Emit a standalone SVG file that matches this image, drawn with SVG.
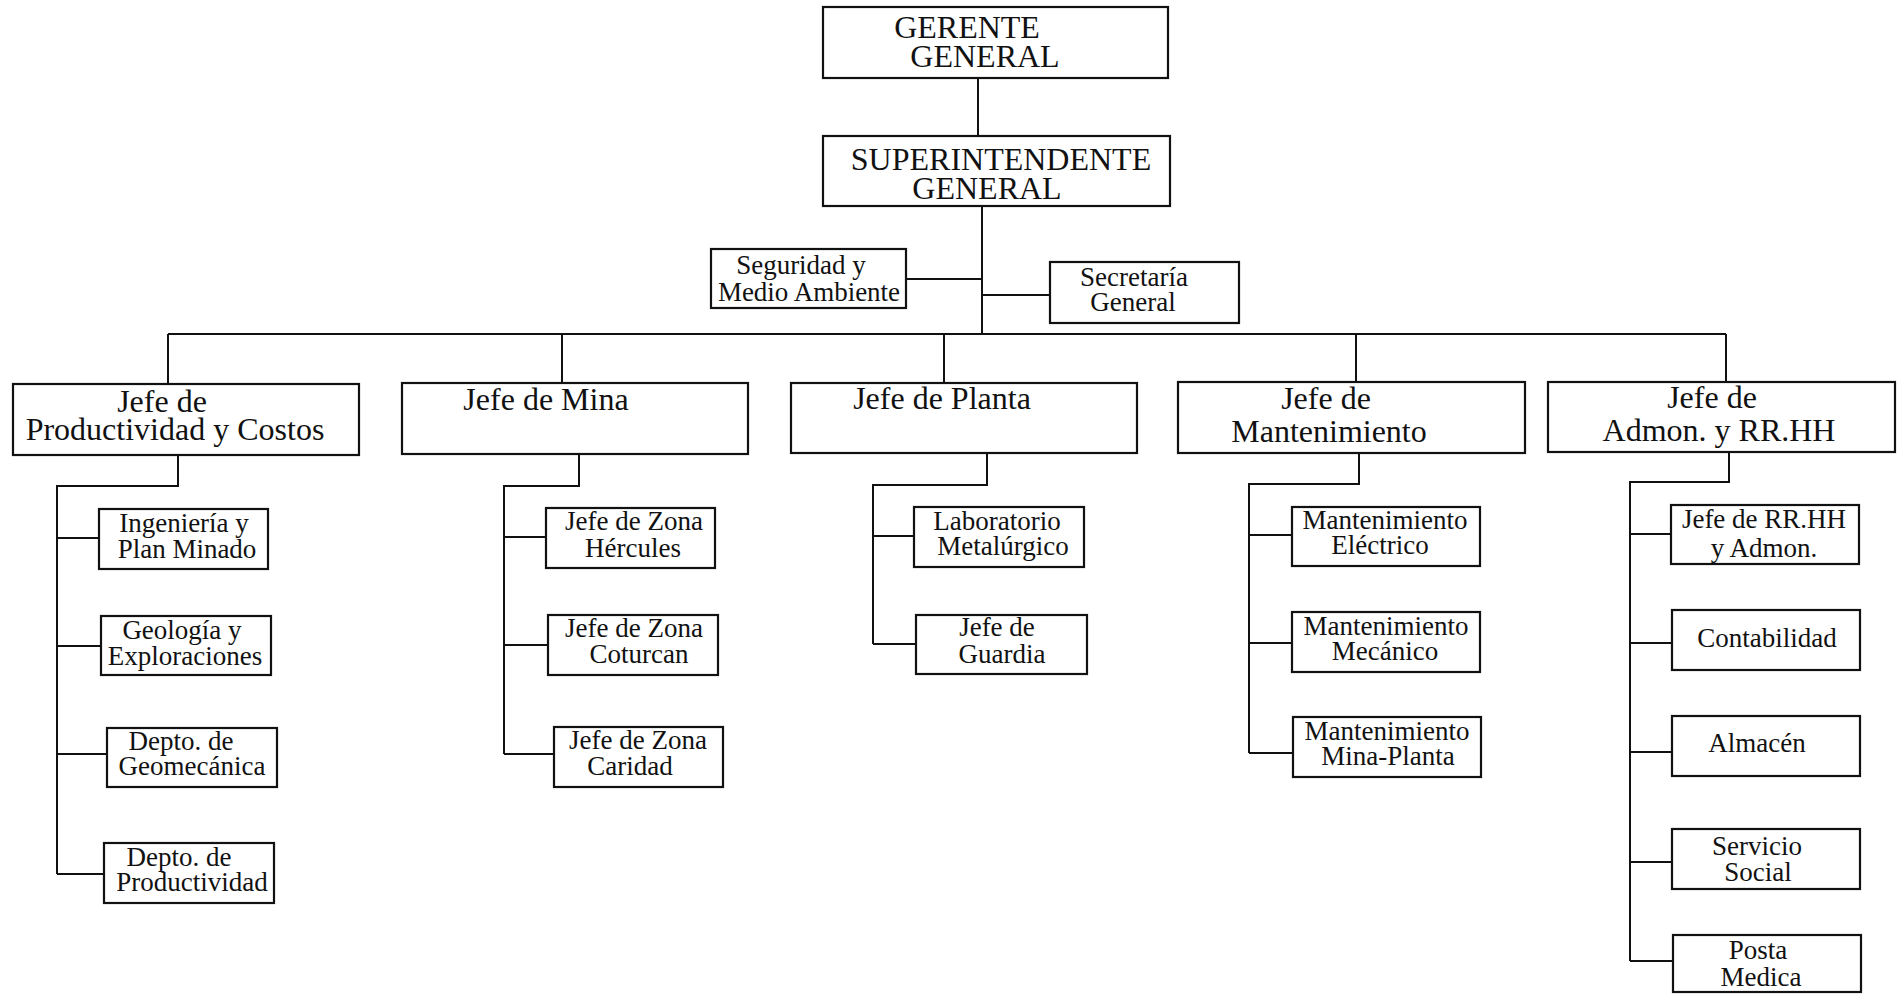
<svg xmlns="http://www.w3.org/2000/svg" width="1901" height="994" viewBox="0 0 1901 994">
<style>
rect{fill:#fff;stroke:#111;stroke-width:2.2}
#connectors path{fill:none;stroke:#111;stroke-width:2}
text{font-family:"Liberation Serif","Times New Roman",serif;fill:#111;text-anchor:middle}
.l{font-size:32px}
.s{font-size:27px}
</style>
<rect x="0" y="0" width="1901" height="994" style="fill:#fff;stroke:none"/>
<g id="connectors">
<path d="M978 78V136"/>
<path d="M982 206V334"/>
<path d="M906 279H982"/>
<path d="M982 295H1050"/>
<path d="M168 334H1726"/>
<path d="M168 334V383M562 334V383M944 334V383M1356 334V382M1726 334V382"/>
<path d="M178 455V486H57V874M57 538H99M57 646H101M57 754H107M57 874H104"/>
<path d="M579 454V486H504V754M504 537H546M504 645H548M504 754H554"/>
<path d="M987 453V485H873V644M873 536H914M873 644H916"/>
<path d="M1359 453V484H1249V753M1249 535H1292M1249 643H1292M1249 753H1293"/>
<path d="M1729 452V482H1630V961M1630 534H1671M1630 643H1672M1630 752H1672M1630 862H1672M1630 961H1673"/>
</g>
<g id="gerente"><rect x="823" y="7" width="345" height="71"/><text class="l" x="967" y="38">GERENTE</text><text class="l" x="985" y="67">GENERAL</text></g>
<g id="superintendente"><rect x="823" y="136" width="347" height="70"/><text class="l" x="1001" y="170">SUPERINTENDENTE</text><text class="l" x="987" y="199">GENERAL</text></g>
<g id="seguridad"><rect x="711" y="249" width="195" height="59"/><text class="s" x="801" y="274">Seguridad y</text><text class="s" x="809" y="301">Medio Ambiente</text></g>
<g id="secretaria"><rect x="1050" y="262" width="189" height="61"/><text class="s" x="1134" y="286">Secretaría</text><text class="s" x="1133" y="311">General</text></g>
<g id="jefe-productividad"><rect x="13" y="384" width="346" height="71"/><text class="l" x="162" y="412">Jefe de</text><text class="l" x="175" y="440">Productividad y Costos</text></g>
<g id="jefe-mina"><rect x="402" y="383" width="346" height="71"/><text class="l" x="546" y="410">Jefe de Mina</text></g>
<g id="jefe-planta"><rect x="791" y="383" width="346" height="70"/><text class="l" x="942" y="409">Jefe de Planta</text></g>
<g id="jefe-mantenimiento"><rect x="1178" y="382" width="347" height="71"/><text class="l" x="1326" y="409">Jefe de</text><text class="l" x="1329" y="442">Mantenimiento</text></g>
<g id="jefe-admon"><rect x="1548" y="382" width="347" height="70"/><text class="l" x="1712" y="408">Jefe de</text><text class="l" x="1719" y="441">Admon. y RR.HH</text></g>
<g id="ingenieria"><rect x="99" y="509" width="169" height="60"/><text class="s" x="184" y="532">Ingeniería y</text><text class="s" x="187" y="558">Plan Minado</text></g>
<g id="geologia"><rect x="101" y="616" width="170" height="59"/><text class="s" x="182" y="639">Geología y</text><text class="s" x="185" y="665">Exploraciones</text></g>
<g id="geomecanica"><rect x="107" y="728" width="170" height="59"/><text class="s" x="181" y="750">Depto. de</text><text class="s" x="192" y="775">Geomecánica</text></g>
<g id="depto-productividad"><rect x="104" y="843" width="170" height="60"/><text class="s" x="179" y="866">Depto. de</text><text class="s" x="192" y="891">Productividad</text></g>
<g id="zona-hercules"><rect x="546" y="508" width="169" height="60"/><text class="s" x="634" y="530">Jefe de Zona</text><text class="s" x="633" y="557">Hércules</text></g>
<g id="zona-coturcan"><rect x="548" y="615" width="170" height="60"/><text class="s" x="634" y="637">Jefe de Zona</text><text class="s" x="639" y="663">Coturcan</text></g>
<g id="zona-caridad"><rect x="554" y="727" width="169" height="60"/><text class="s" x="638" y="749">Jefe de Zona</text><text class="s" x="630" y="775">Caridad</text></g>
<g id="laboratorio"><rect x="914" y="507" width="170" height="60"/><text class="s" x="997" y="530">Laboratorio</text><text class="s" x="1003" y="555">Metalúrgico</text></g>
<g id="guardia"><rect x="916" y="615" width="171" height="59"/><text class="s" x="997" y="636">Jefe de</text><text class="s" x="1002" y="663">Guardia</text></g>
<g id="mant-electrico"><rect x="1292" y="507" width="188" height="59"/><text class="s" x="1385" y="529">Mantenimiento</text><text class="s" x="1380" y="554">Eléctrico</text></g>
<g id="mant-mecanico"><rect x="1292" y="612" width="188" height="60"/><text class="s" x="1386" y="635">Mantenimiento</text><text class="s" x="1385" y="660">Mecánico</text></g>
<g id="mant-mina-planta"><rect x="1293" y="717" width="188" height="60"/><text class="s" x="1387" y="740">Mantenimiento</text><text class="s" x="1388" y="765">Mina-Planta</text></g>
<g id="jefe-rrhh"><rect x="1671" y="505" width="188" height="59"/><text class="s" x="1764" y="528">Jefe de RR.HH</text><text class="s" x="1764" y="557">y Admon.</text></g>
<g id="contabilidad"><rect x="1672" y="610" width="188" height="60"/><text class="s" x="1767" y="647">Contabilidad</text></g>
<g id="almacen"><rect x="1672" y="716" width="188" height="60"/><text class="s" x="1757" y="752">Almacén</text></g>
<g id="servicio-social"><rect x="1672" y="829" width="188" height="60"/><text class="s" x="1757" y="855">Servicio</text><text class="s" x="1758" y="881">Social</text></g>
<g id="posta-medica"><rect x="1673" y="935" width="188" height="57"/><text class="s" x="1758" y="959">Posta</text><text class="s" x="1761" y="986">Medica</text></g>
</svg>
